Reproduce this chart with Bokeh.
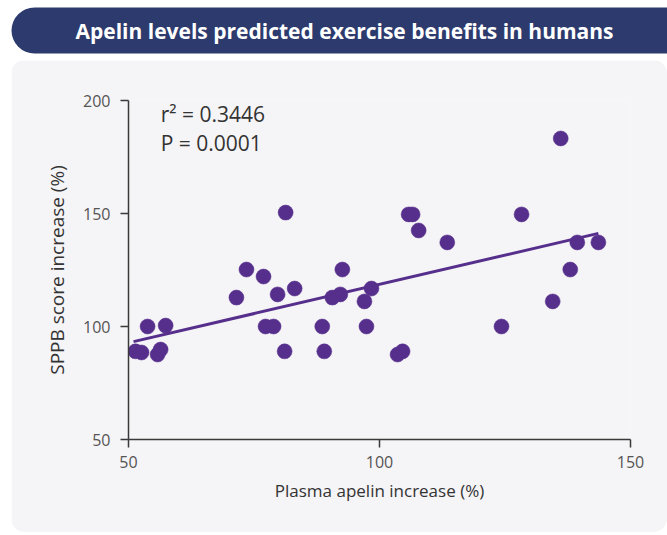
from bokeh.plotting import figure
from bokeh.models import Range1d, Label, BoxAnnotation, FixedTicker, ColumnDataSource
from bokeh.embed import file_html
from bokeh.resources import INLINE

# ---- data ----
title_text = "Apelin levels predicted exercise benefits in humans"
x_label = "Plasma apelin increase (%)"
y_label = "SPPB score increase (%)"
x_ticks = [50, 100, 150]
y_ticks = [50, 100, 150, 200]
apelin_increase = [51.4, 52.6, 53.8, 55.8, 56.4, 57.4, 71.5, 73.5, 76.9, 77.3, 78.9, 79.7,
                   81.3, 81.1, 83.1, 88.6, 89.0, 90.6, 92.2, 92.6, 97.0, 97.4, 98.4, 103.6,
                   104.6, 105.8, 106.6, 107.8, 113.5, 124.3, 128.3, 134.5, 136.1, 138.0,
                   139.4, 143.6]
sppb_increase = [89.0, 88.5, 100.0, 87.6, 89.8, 100.4, 112.8, 125.2, 122.1, 100.0, 100.0, 114.2,
                 150.4, 89.0, 116.8, 100.0, 89.0, 112.8, 114.2, 125.2, 111.1, 100.0, 116.8, 87.6,
                 89.0, 149.6, 149.6, 142.5, 137.2, 100.0, 149.6, 111.1, 183.2, 125.2,
                 137.2, 137.2]
fit_x = [51.0, 143.6]
fit_y = [93.3, 141.2]
stats_lines = ["r\u00b2 = 0.3446", "P = 0.0001"]

PURPLE = "#562f8c"
NAVY = "#2c3a6d"
PANEL = "#f5f4f6"
FONT = "Open Sans"

# ---- banner ----
BW, BH = 667, 60
banner = figure(width=BW, height=BH, x_range=Range1d(0, BW), y_range=Range1d(0, BH),
                output_backend="svg", toolbar_location=None, min_border=0)
banner.axis.visible = False
banner.grid.visible = False
banner.outline_line_color = None
banner.background_fill_color = "white"
banner.border_fill_color = "white"
banner.add_layout(BoxAnnotation(left=11, right=720, bottom=7, top=53, fill_color=NAVY,
                                fill_alpha=1, line_color=None, border_radius=23))
banner.add_layout(Label(x=344, y=30, text=title_text, text_align="center",
                        text_baseline="middle", text_color="white", text_font=FONT,
                        text_font_size="21px", text_font_style="bold"))

# ---- main chart ----
PX0 = 11
p = figure(width=BW - PX0, height=472, x_range=Range1d(50, 150), y_range=Range1d(50, 200),
           output_backend="svg", toolbar_location=None,
           min_border_left=128 - PX0, min_border_right=37, min_border_top=40,
           min_border_bottom=472 - 379)
p.styles = {"margin-left": f"{PX0}px", "border-radius": "14px", "overflow": "hidden"}
p.grid.visible = False
p.outline_line_color = None
p.background_fill_color = PANEL
p.border_fill_color = PANEL

for ax in (p.xaxis[0], p.yaxis[0]):
    ax.axis_line_color = "#3a3a3a"
    ax.axis_line_width = 1.5
    ax.major_tick_line_color = "#3a3a3a"
    ax.major_tick_line_width = 1.5
    ax.major_tick_out = 8
    ax.major_tick_in = 0
    ax.minor_tick_line_color = None
    ax.major_label_text_font = FONT
    ax.major_label_text_font_size = "16px"
    ax.major_label_text_color = "#555555"
    ax.axis_label_text_font = FONT
    ax.axis_label_text_font_style = "normal"
    ax.axis_label_text_color = "#333333"

p.xaxis.axis_label_text_font_size = "17px"
p.yaxis.axis_label_text_font_size = "19px"
p.xaxis.ticker = FixedTicker(ticks=x_ticks)
p.yaxis.ticker = FixedTicker(ticks=y_ticks)
p.xaxis.axis_label = x_label
p.yaxis.axis_label = y_label
p.xaxis.major_label_standoff = 8
p.yaxis.major_label_standoff = 10
p.xaxis.axis_label_standoff = 8
p.yaxis.axis_label_standoff = 10

p.line(fit_x, fit_y, line_color=PURPLE, line_width=3)
src = ColumnDataSource(dict(x=apelin_increase, y=sppb_increase))
p.scatter("x", "y", source=src, size=15, fill_color=PURPLE, line_color=PURPLE, line_width=0.5)

p.add_layout(Label(x=56.4, y=194.2, text=stats_lines[0], text_baseline="middle",
                   text_font=FONT, text_font_size="21px", text_color="#333333"))
p.add_layout(Label(x=56.4, y=181.4, text=stats_lines[1], text_baseline="middle",
                   text_font=FONT, text_font_size="21px", text_color="#333333"))

open("out.html", "w").write(file_html([banner, p], INLINE))
